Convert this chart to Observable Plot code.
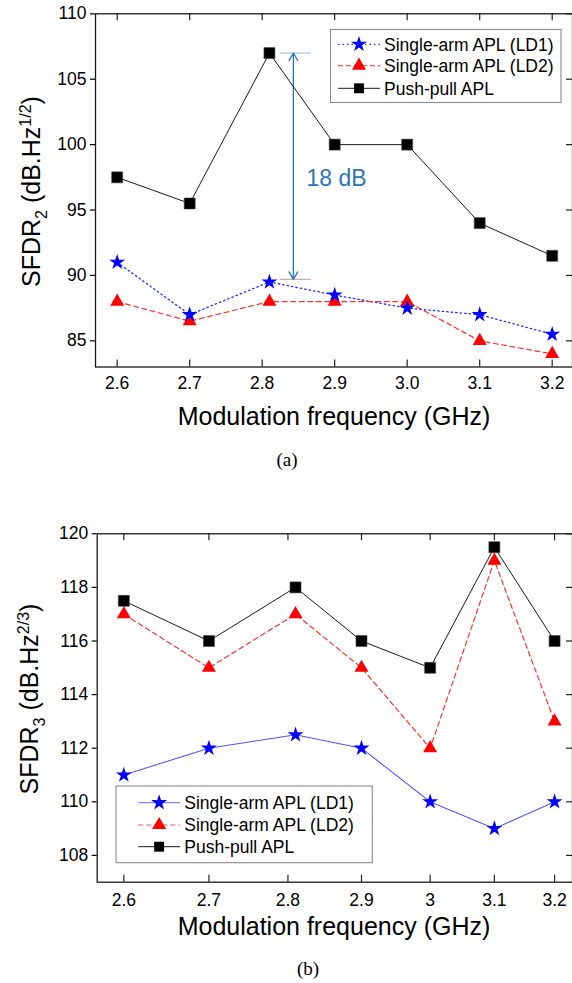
<!DOCTYPE html>
<html><head><meta charset="utf-8">
<script src="https://cdn.jsdelivr.net/npm/d3@7"></script>
<script src="https://cdn.jsdelivr.net/npm/@observablehq/plot@0.6"></script>
<style>
body{margin:0;background:#fff;overflow:hidden}
#wrap{position:relative;width:572px;height:983px;background:#fff}
#pa{position:absolute;left:0;top:0}
#pb{position:absolute;left:0;top:480px}
</style></head><body><div id="wrap"><div id="pa"></div><div id="pb"></div></div>
<script>
// ---------- data ----------
const freq = [2.6, 2.7, 2.81, 2.9, 3.0, 3.1, 3.2];
const xTicks = [2.6, 2.7, 2.8, 2.9, 3.0, 3.1, 3.2];
const xTickLabelsA = ["2.6", "2.7", "2.8", "2.9", "3.0", "3.1", "3.2"];
const xTickLabelsB = ["2.6", "2.7", "2.8", "2.9", "3", "3.1", "3.2"];
const seriesNames = ["Single-arm APL (LD1)", "Single-arm APL (LD2)", "Push-pull APL"];

const sfdr2LD1 = [91, 87, 89.5, 88.5, 87.5, 87, 85.5];
const sfdr2LD2 = [88, 86.5, 88, 88, 88, 85, 84];
const sfdr2PP  = [97.5, 95.5, 107, 100, 100, 94, 91.5];
const yTicksA = [85, 90, 95, 100, 105, 110];

const sfdr3LD1 = [111, 112, 112.5, 112, 110, 109, 110];
const sfdr3LD2 = [117, 115, 117, 115, 112, 119, 113];
const sfdr3PP  = [117.5, 116, 118, 116, 115, 119.5, 116];
const yTicksB = [108, 110, 112, 114, 116, 118, 120];

// annotation in panel (a)
const gapX = 2.843;
const gapGuideX = [2.824, 2.867];
const gapTop = 107;
const gapBottom = 89.7;
const gapLabel = "18 dB";
const gapLabelPos = [2.861, 97.4];

// ---------- drawing ----------
const W = 572;
const FONT = "Arial, 'Liberation Sans', Helvetica, sans-serif";
const rows = ys => freq.map((f, i) => ({f, v: ys[i]}));

function buildPanel(o) {
  const plotH = o.height - o.mt - o.mb;
  const plotW = W - o.ml - o.mr;
  const fmt = d => o.xLabels[xTicks.findIndex(t => Math.abs(t - d) < 1e-9)];
  return Plot.plot({
    width: W, height: o.height,
    marginTop: o.mt, marginBottom: o.mb, marginLeft: o.ml, marginRight: o.mr,
    style: {fontFamily: FONT, color: "#000", background: "#fff", overflow: "visible"},
    x: o.x,
    y: {domain: o.yDomain},
    marks: [
      Plot.tickX(xTicks, {x: d => d, insetTop: plotH - 7, stroke: "#222", strokeWidth: 1.2}),
      Plot.tickX(xTicks, {x: d => d, insetBottom: plotH - 7, stroke: "#222", strokeWidth: 1.2}),
      Plot.tickY(o.yTicks, {y: d => d, insetLeft: plotW - 6, stroke: "#222", strokeWidth: 1.2}),
      Plot.axisX({anchor: "bottom", ticks: xTicks, tickSize: 0, tickPadding: o.xPad, tickFormat: fmt, fontSize: 17.5, label: null}),
      Plot.axisY({anchor: "left", ticks: o.yTicks, tickSize: 5, tickPadding: 4, fontSize: 17.5, label: null, strokeWidth: 1.2}),
      ...o.extra,
      Plot.line(rows(o.ld1), {x: "f", y: "v", stroke: o.ld1Color, strokeWidth: o.ld1Width, strokeDasharray: o.ld1Dash}),
      Plot.line(rows(o.ld2), {x: "f", y: "v", stroke: "#ff3030", strokeWidth: 1.2, strokeDasharray: "5,3.5"}),
      Plot.line(rows(o.pp), {x: "f", y: "v", stroke: "#1a1a1a", strokeWidth: 1}),
      Plot.dot(rows(o.ld2), {x: "f", y: "v", symbol: "triangle", r: 5.2, fill: "#ff0000"}),
      Plot.dot(rows(o.ld1), {x: "f", y: "v", symbol: "star", r: 5, fill: "#0000ff"}),
      Plot.dot(rows(o.pp), {x: "f", y: "v", symbol: "square", r: 6.2, fill: "#000", stroke: "#444", strokeWidth: 0.6}),
      Plot.frame({stroke: "#1a1a1a", strokeWidth: 1.3})
    ]
  });
}

function addLegend(svg, L) {
  const g = d3.select(svg).append("g").attr("text-anchor", "start");
  g.append("rect").attr("x", L.x).attr("y", L.y).attr("width", L.w).attr("height", L.h)
    .attr("fill", "#fff").attr("stroke", "#8a8a8a").attr("stroke-width", 1.1);
  const styles = [
    {stroke: L.ld1Color, dash: L.ld1Dash, width: L.ld1Width, sym: d3.symbolStar, size: Math.PI * 25, fill: "#0000ff"},
    {stroke: "#ff5050", dash: "5,3", width: 1.2, sym: d3.symbolTriangle, size: Math.PI * 5.2 * 5.2, fill: "#ff0000"},
    {stroke: "#1a1a1a", dash: null, width: 1, sym: d3.symbolSquare, size: Math.PI * 5.6 * 5.6, fill: "#000"}
  ];
  seriesNames.forEach((name, i) => {
    const s = styles[i], y = L.rows[i];
    g.append("line").attr("x1", L.lx1).attr("x2", L.lx2).attr("y1", y).attr("y2", y)
      .attr("stroke", s.stroke).attr("stroke-width", s.width).attr("stroke-dasharray", s.dash);
    g.append("path").attr("d", d3.symbol(s.sym, s.size)()).attr("fill", s.fill)
      .attr("transform", `translate(${(L.lx1 + L.lx2) / 2},${y})`);
    g.append("text").attr("x", L.tx).attr("y", y).attr("dy", "0.36em").attr("text-anchor", "start")
      .attr("font-family", FONT).attr("font-size", 17.5).attr("fill", "#000").text(name);
  });
}

function addLabels(svg, o) {
  const s = d3.select(svg);
  // x label
  s.append("text").attr("x", o.xlx).attr("y", o.xly).attr("text-anchor", "middle")
    .attr("font-family", FONT).attr("font-size", 25).attr("fill", "#000")
    .text("Modulation frequency (GHz)");
  // y label
  const t = s.append("text").attr("transform", `translate(${o.ylx},${o.yly}) rotate(-90)`)
    .attr("text-anchor", "middle").attr("font-family", FONT).attr("font-size", 25).attr("fill", "#000");
  t.append("tspan").text("SFDR");
  t.append("tspan").attr("font-size", 16).attr("dy", 7).text(o.sub);
  t.append("tspan").attr("dy", -7).text(" (dB.Hz");
  t.append("tspan").attr("font-size", 16).attr("dy", -9).text(o.sup);
  t.append("tspan").attr("dy", 9).text(")");
  // caption
  s.append("text").attr("x", o.cx).attr("y", o.cy).attr("text-anchor", "middle")
    .attr("font-family", "'Times New Roman', 'Liberation Serif', serif").attr("font-size", 19)
    .attr("fill", "#000").text(o.caption);
}

// ----- panel (a) -----
const annoBlue = "#2e75b6";
const svgA = buildPanel({
  height: 480, mt: 13.3, mb: 480 - 366.5, ml: 95, mr: 0,
  x: {domain: [2.5701, 3.228]},
  yDomain: [83, 110], yTicks: yTicksA, xLabels: xTickLabelsA, xPad: 10,
  ld1: sfdr2LD1, ld2: sfdr2LD2, pp: sfdr2PP,
  ld1Color: "#2a2aff", ld1Width: 1.3, ld1Dash: "1.5,3",
  extra: [
    Plot.link([gapTop], {x1: gapGuideX[0], x2: gapGuideX[1], y1: d => d, y2: d => d, stroke: "#9cc3e6", strokeWidth: 1.2}),
    Plot.link([gapBottom], {x1: gapGuideX[0], x2: gapGuideX[1], y1: d => d, y2: d => d, stroke: "#c9aab2", strokeWidth: 1.2}),
    Plot.arrow([gapTop, gapBottom], {x1: gapX, x2: gapX, y1: (gapTop + gapBottom) / 2, y2: d => d,
      stroke: annoBlue, strokeWidth: 1.3, headLength: 10, headAngle: 60}),
    Plot.text([gapLabel], {x: gapLabelPos[0], y: gapLabelPos[1], text: d => d, textAnchor: "start",
      fontSize: 23, fill: annoBlue})
  ]
});
addLegend(svgA, {x: 330.5, y: 29.5, w: 230.5, h: 73, rows: [44.3, 65.7, 88.3], lx1: 338, lx2: 380, tx: 384,
  ld1Color: "#2a2aff", ld1Dash: "1.5,3", ld1Width: 1.3});
addLabels(svgA, {xlx: 334, xly: 425, ylx: 40, yly: 191.5, sub: "2", sup: "1/2", cx: 287, cy: 466, caption: "(a)"});
document.getElementById("pa").appendChild(svgA);

// ----- panel (b) -----
const svgB = buildPanel({
  height: 503, mt: 53.3, mb: 503 - 401.7, ml: 96.7, mr: 0,
  x: {type: "pow", exponent: -1, domain: [2.5702, 3.231]},
  yDomain: [107, 120], yTicks: yTicksB, xLabels: xTickLabelsB, xPad: 11,
  ld1: sfdr3LD1, ld2: sfdr3LD2, pp: sfdr3PP,
  ld1Color: "#4a4aff", ld1Width: 1.1, ld1Dash: "1,1",
  extra: []
});
addLegend(svgB, {x: 116, y: 306, w: 256.3, h: 76.7, rows: [322.7, 345, 366.7], lx1: 138.3, lx2: 180, tx: 184.3,
  ld1Color: "#6a6aff", ld1Dash: null, ld1Width: 1});
addLabels(svgB, {xlx: 334, xly: 455, ylx: 38, yly: 219, sub: "3", sup: "2/3", cx: 308, cy: 495, caption: "(b)"});
document.getElementById("pb").appendChild(svgB);
</script>
</body></html>
